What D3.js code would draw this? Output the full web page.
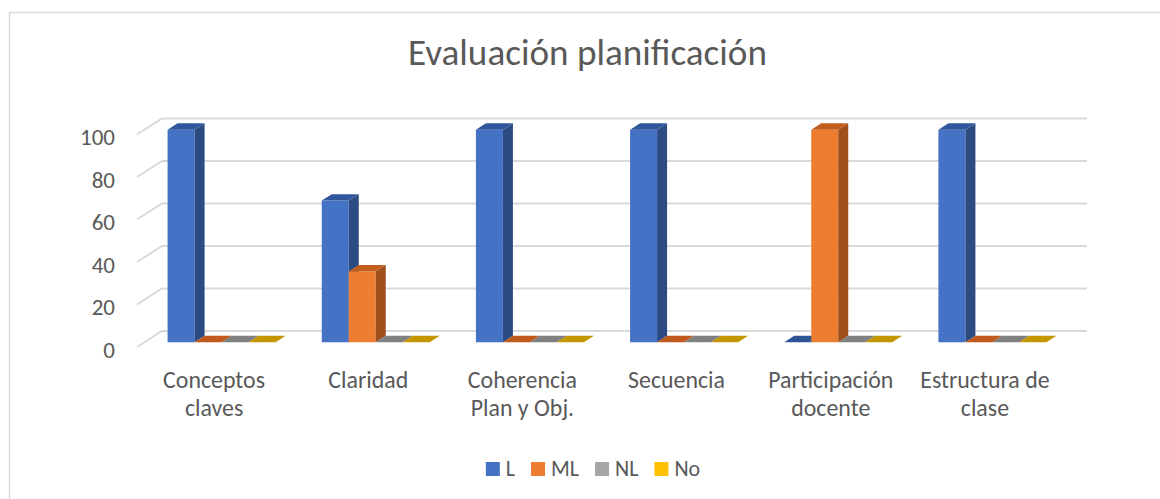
<!DOCTYPE html>
<html>
<head>
<meta charset="utf-8">
<script src="https://cdn.jsdelivr.net/npm/d3@7"></script>
<style>
  html, body { margin: 0; padding: 0; background: #fff; }
  svg { display: block; }
</style>
</head>
<body>
<svg id="chart" width="1160" height="499"></svg>
<script>
// ---- data ----
const categories = [
  ["Conceptos", "claves"],
  ["Claridad"],
  ["Coherencia", "Plan y Obj."],
  ["Secuencia"],
  ["Participación", "docente"],
  ["Estructura de", "clase"]
];
const seriesNames = ["L", "ML", "NL", "No"];
const valuesL  = [100, 66.67, 100, 100, 0, 100];
const valuesML = [0, 33.33, 0, 0, 100, 0];
const valuesNL = [0, 0, 0, 0, 0, 0];
const valuesNo = [0, 0, 0, 0, 0, 0];
const yTicks = [0, 20, 40, 60, 80, 100];
const titleText = "Evaluación planificación";

// ---- styles ----
const FONT = "Carlito, Lato, 'Open Sans', sans-serif";
const TXT = "#595959";
const GRID = "#d9d9d9";
const colors = {
  L:  { front: "#4472c4", side: "#2c4b82", top: "#30569b", flat: "#2f5597" },
  ML: { front: "#ed7d31", side: "#9e4f1c", top: "#c25f1e", flat: "#c05a1d" },
  NL: { front: "#a5a5a5", side: "#6b6b6b", top: "#838383", flat: "#808080" },
  No: { front: "#ffc000", side: "#a57c00", top: "#c99700", flat: "#c49600" }
};
const seriesVals = { L: valuesL, ML: valuesML, NL: valuesNL, No: valuesNo };

const svg = d3.select("#chart");

// chart border
svg.append("rect")
  .attr("x", 9.5).attr("y", 12.5).attr("width", 1200).attr("height", 600)
  .attr("fill", "#fff").attr("stroke", GRID).attr("stroke-width", 1.5);

// ---- 3D projection ----
const DX = 25, DY = 16;   // full depth offset
const y = d3.scaleLinear().domain([0, 100]).range([347, 134.5]);
const catKeys = categories.map(c => c.join(" "));
const x = d3.scaleBand().domain(catKeys).range([137, 1062]);
const groupW = 108;
const inner = d3.scaleBand().domain(seriesNames).range([0, groupW]);
const P = (px, v, z) => [px + z * DX, y(v) - z * DY];
const poly = pts => "M" + pts.map(p => p.join(",")).join("L") + "Z";

// gridlines (back wall + side wall)
const grid = svg.append("g");
yTicks.forEach(t => {
  const a = P(137, t, 0), b = P(137, t, 1), c = P(1062, t, 1);
  grid.append("path")
    .attr("d", `M${a}L${b}L${c}`)
    .attr("fill", "none").attr("stroke", GRID).attr("stroke-width", 2);
});

// bars
const z0 = 0.3, z1 = 0.7;
const bars = svg.append("g");
catKeys.forEach((ck, i) => {
  const gx = x(ck) + (x.bandwidth() - groupW) / 2;
  seriesNames.forEach(s => {
    const v = seriesVals[s][i];
    const col = colors[s];
    const xl = gx + inner(s), xr = xl + inner.bandwidth();
    if (v <= 0) {
      bars.append("path")
        .attr("d", poly([P(xl, 0, z0), P(xr, 0, z0), P(xr, 0, z1), P(xl, 0, z1)]))
        .attr("fill", col.flat);
      return;
    }
    // front
    bars.append("path")
      .attr("d", poly([P(xl, 0, z0), P(xr, 0, z0), P(xr, v, z0), P(xl, v, z0)]))
      .attr("fill", col.front);
    // side
    bars.append("path")
      .attr("d", poly([P(xr, 0, z0), P(xr, 0, z1), P(xr, v, z1), P(xr, v, z0)]))
      .attr("fill", col.side);
    // top
    bars.append("path")
      .attr("d", poly([P(xl, v, z0), P(xr, v, z0), P(xr, v, z1), P(xl, v, z1)]))
      .attr("fill", col.top);
  });
});

// ---- font sizing by measurement ----
function measure(text, size) {
  const t = svg.append("text").attr("font-family", FONT).attr("font-size", size).text(text);
  const w = t.node().getComputedTextLength();
  t.remove();
  return w;
}
const labelSize = 20 * 102 / measure("Conceptos", 20);
const titleSize = 30 * 359 / measure(titleText, 30);
const tickSize = 20 * 35 / measure("100", 20);
const legendSize = 20 * 28 / measure("ML", 20);

// y axis
const yAxis = svg.append("g")
  .attr("transform", "translate(137,3)")
  .call(d3.axisLeft(y).tickValues(yTicks).tickSize(0).tickPadding(22));
yAxis.select(".domain").remove();
yAxis.selectAll("text")
  .attr("font-family", FONT).attr("font-size", tickSize).attr("fill", TXT);

// category labels
const catG = svg.append("g");
categories.forEach((lines, i) => {
  const cx = x(catKeys[i]) + x.bandwidth() / 2;
  const t = catG.append("text")
    .attr("x", cx).attr("y", 388)
    .attr("text-anchor", "middle")
    .attr("font-family", FONT).attr("font-size", labelSize).attr("fill", TXT);
  lines.forEach((ln, j) => {
    t.append("tspan").attr("x", cx).attr("y", 388 + j * 28).text(ln);
  });
});

// title
svg.append("text")
  .attr("x", 587.5).attr("y", 65)
  .attr("text-anchor", "middle")
  .attr("font-family", FONT).attr("font-size", titleSize).attr("fill", TXT)
  .text(titleText);

// legend
const legend = svg.append("g");
const legendColors = { L: "#4472c4", ML: "#ed7d31", NL: "#a5a5a5", No: "#ffc000" };
let lx = 0;
const items = [];
seriesNames.forEach(s => {
  const w = measure(s, legendSize);
  items.push({ s, x: lx, w });
  lx += 20 + w + 16;
});
const totalW = lx - 16;
const lStart = 593 - totalW / 2;
items.forEach(it => {
  legend.append("rect")
    .attr("x", lStart + it.x).attr("y", 462).attr("width", 14).attr("height", 14)
    .attr("fill", legendColors[it.s]);
  legend.append("text")
    .attr("x", lStart + it.x + 20).attr("y", 476)
    .attr("font-family", FONT).attr("font-size", legendSize).attr("fill", TXT)
    .text(it.s);
});
</script>
</body>
</html>
